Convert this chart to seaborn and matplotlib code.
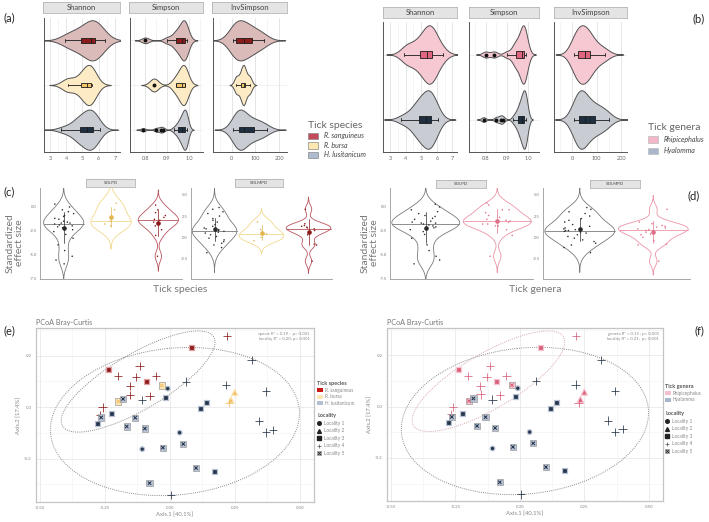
import numpy as np
import pandas as pd
import matplotlib
matplotlib.use("Agg")
import matplotlib.pyplot as plt
import seaborn as sns
from matplotlib.patches import Patch, Ellipse
from matplotlib.lines import Line2D
from matplotlib.ticker import MultipleLocator, FixedLocator, FormatStrFormatter

# ------------------------------------------------------------------ data
species = ["R. sanguineus", "R. bursa", "H. lusitanicum"]
genera = ["Rhipicephalus", "Hyalomma"]
genus_of = {"R. sanguineus": "Rhipicephalus", "R. bursa": "Rhipicephalus",
            "H. lusitanicum": "Hyalomma"}

shannon_rs = [3.9, 4.3, 4.6, 4.9, 5.1, 5.3, 5.5, 5.6, 5.7, 5.8, 5.9, 6.1, 6.4]
shannon_rb = [4.1, 4.9, 5.3, 5.5, 5.6]
shannon_hl = [3.7, 4.0, 4.3, 4.5, 4.6, 4.7, 4.8, 4.85, 4.9, 5.0, 5.1, 5.2, 5.25, 5.3,
              5.35, 5.4, 5.45, 5.5, 5.55, 5.6, 5.65, 5.7, 5.75, 5.8, 5.9, 6.0, 6.1]

simpson_rs = [0.80, 0.90, 0.93, 0.94, 0.95, 0.96, 0.97, 0.97, 0.98, 0.98, 0.98, 0.99, 0.99]
simpson_rb = [0.84, 0.94, 0.97, 0.98, 0.98]
simpson_hl = [0.79, 0.85, 0.87, 0.88, 0.93, 0.94, 0.95, 0.95, 0.96, 0.96, 0.96, 0.97, 0.97,
              0.97, 0.97, 0.98, 0.98, 0.98, 0.98, 0.98, 0.98, 0.99, 0.99, 0.99, 0.99, 0.99, 0.99]

invsimpson_rs = [5, 10, 15, 20, 30, 40, 50, 60, 70, 85, 95, 120, 135]
invsimpson_rb = [20, 40, 50, 55, 75]
invsimpson_hl = [5, 10, 15, 20, 22, 25, 28, 30, 32, 35, 38, 40, 45, 50, 55, 60, 65, 70,
                 80, 90, 95, 100, 110, 120, 130, 140, 150]

ses_pd_rs = [0.2, -0.3, -0.6, -0.9, -1.1, -1.3, -1.4, -1.6, -1.8, -2.0, -2.4, -3.0, -5.2]
ses_pd_rb = [0.4, -0.3, -1.5, -1.8, -2.0]
ses_pd_hl = [0.3, 0.0, -0.3, -0.5, -0.7, -0.9, -1.0, -1.2, -1.3, -1.5, -1.6, -1.7, -1.7,
             -1.8, -1.9, -2.0, -2.1, -2.2, -2.4, -2.6, -2.9, -3.3, -4.0, -4.6, -5.2, -5.6, -6.0]

ses_mpd_rs = [3.3, 1.6, 1.4, 1.3, 1.2, 1.1, 1.0, 0.8, 0.6, 0.3, -0.8, -0.9, -2.8]
ses_mpd_rb = [1.8, 0.9, 0.4, 0.0, -0.4]
ses_mpd_hl = [3.5, 3.3, 3.0, 2.8, 2.5, 2.2, 2.0, 1.8, 1.5, 1.3, 1.1, 1.0, 0.9, 0.8, 0.8,
              0.7, 0.6, 0.5, 0.3, 0.1, -0.1, -0.3, -0.5, -0.7, -0.9, -1.2, -1.8]

pcoa_ax1_rs = [0.082, -0.236, -0.091, 0.219, -0.116, -0.200, -0.129, -0.052, -0.153,
               -0.152, -0.078, -0.259, -0.268]
pcoa_ax2_rs = [0.231, 0.147, 0.098, 0.277, 0.159, 0.120, 0.117, 0.120, 0.081,
               0.048, 0.044, -0.001, -0.030]
pcoa_loc_rs = [3, 3, 3, 4, 4, 4, 4, 4, 4, 4, 4, 4, 4]

pcoa_ax1_rb = [0.250, 0.235, -0.031, -0.198, 0.228]
pcoa_ax2_rb = [0.057, 0.028, 0.084, 0.022, 0.015]
pcoa_loc_rb = [2, 2, 5, 5, 4]

pcoa_ax1_hl = [-0.008, 0.038, -0.106, -0.018, 0.143, 0.119, -0.223, -0.277, 0.173,
               -0.180, -0.264, -0.133, -0.166, -0.096, -0.027, 0.052, 0.101, -0.078,
               -0.106, 0.062, 0.216, 0.315, 0.369, 0.343, 0.369, 0.398, 0.005]
pcoa_ax2_hl = [0.072, -0.099, -0.163, 0.039, 0.018, -0.006, -0.026, -0.062, -0.250,
               0.032, -0.040, -0.041, -0.075, -0.083, -0.157, -0.143, -0.236, -0.295,
               0.028, 0.099, 0.086, 0.183, 0.061, -0.054, -0.098, -0.088, -0.342]
pcoa_loc_hl = [1, 1, 1, 3, 3, 3, 3, 3, 3, 5, 5, 5, 5, 5, 5, 5, 5, 5,
               4, 4, 4, 4, 4, 4, 4, 4, 4]

localities = ["Locality 1", "Locality 2", "Locality 3", "Locality 4", "Locality 5"]
pcoa_stats_species = "specie R\u00b2 = 0.19 ;  p= 0.001\nlocality R\u00b2 = 0.20; p= 0.001"
pcoa_stats_genera = "genera R\u00b2 = 0.15 ; p= 0.001\nlocality R\u00b2 = 0.21;  p= 0.001"

# ------------------------------------------------------------------ tables
def long_table(metric, rs, rb, hl):
    rows = []
    for sp, vals in zip(species, [rs, rb, hl]):
        for v in vals:
            rows.append((sp, genus_of[sp], metric, v))
    return pd.DataFrame(rows, columns=["species", "genus", "metric", "value"])

div_df = pd.concat([long_table("Shannon", shannon_rs, shannon_rb, shannon_hl),
                    long_table("Simpson", simpson_rs, simpson_rb, simpson_hl),
                    long_table("InvSimpson", invsimpson_rs, invsimpson_rb, invsimpson_hl)],
                   ignore_index=True)
ses_df = pd.concat([long_table("SES.PD", ses_pd_rs, ses_pd_rb, ses_pd_hl),
                    long_table("SES.MPD", ses_mpd_rs, ses_mpd_rb, ses_mpd_hl)],
                   ignore_index=True)

pc_rows = []
for sp, a1, a2, lc in [("R. sanguineus", pcoa_ax1_rs, pcoa_ax2_rs, pcoa_loc_rs),
                       ("R. bursa", pcoa_ax1_rb, pcoa_ax2_rb, pcoa_loc_rb),
                       ("H. lusitanicum", pcoa_ax1_hl, pcoa_ax2_hl, pcoa_loc_hl)]:
    for x, y, l in zip(a1, a2, lc):
        pc_rows.append((sp, genus_of[sp], f"Locality {l}", x, y))
pc_df = pd.DataFrame(pc_rows, columns=["species", "genus", "locality", "Axis1", "Axis2"])

# ------------------------------------------------------------------ style
sns.set_style("white")
plt.rcParams["font.family"] = ["Lato", "DejaVu Sans"]
W, H = 709, 522
fig = plt.figure(figsize=(W / 100, H / 100), dpi=100)


def px_axes(x0, y0, x1, y1):
    return fig.add_axes([x0 / W, 1 - y1 / H, (x1 - x0) / W, (y1 - y0) / H])


def strip(x0, y0, x1, y1, text, fs):
    s = px_axes(x0, y0, x1, y1)
    s.set_facecolor("#e4e4e4")
    for sp in s.spines.values():
        sp.set_color("#b5b5b5")
        sp.set_linewidth(0.6)
    s.set_xticks([])
    s.set_yticks([])
    s.text(0.5, 0.5, text, ha="center", va="center", fontsize=fs, color="#444")


def nrd0(kde):
    x = np.asarray(kde.dataset).ravel()
    sd = np.std(x, ddof=1)
    q75, q25 = np.percentile(x, [75, 25])
    lo = min(sd, (q75 - q25) / 1.34) if q75 > q25 else sd
    return 0.9 * lo * len(x) ** -0.2 / sd


# ------------------------------------------------------------------ (a), (b)
def div_panel(ax, sub, col, order, fills, boxes, xlim, major, minor, fmt, adj):
    sns.violinplot(data=sub, x="value", y=col, hue=col, order=order, hue_order=order,
                   palette=fills, orient="h", inner=None, cut=3, bw_method=nrd0,
                   bw_adjust=adj, density_norm="width", width=0.9, linewidth=0.7,
                   linecolor="#505050", saturation=1, legend=False, ax=ax)
    sns.boxplot(data=sub, x="value", y=col, hue=col, order=order, hue_order=order,
                palette=boxes, orient="h", width=0.11, linewidth=0.6, linecolor="#1a1a1a",
                saturation=1, whis=1.5,
                flierprops=dict(marker="o", markersize=1.8, markerfacecolor="#111",
                                markeredgecolor="#111"),
                legend=False, ax=ax)
    ax.set_xlim(*xlim)
    ax.xaxis.set_major_locator(MultipleLocator(major))
    ax.xaxis.set_minor_locator(MultipleLocator(minor))
    ax.xaxis.set_major_formatter(FormatStrFormatter(fmt))
    ax.grid(axis="x", which="major", color="#e2e2e2", lw=0.6)
    ax.grid(axis="x", which="minor", color="#f0f0f0", lw=0.5)
    ax.grid(axis="y", which="major", color="#ececec", lw=0.5)
    ax.set_axisbelow(True)
    ax.set_xlabel("")
    ax.set_ylabel("")
    ax.tick_params(axis="y", length=0, labelleft=False)
    ax.tick_params(axis="x", length=1.5, width=0.5, labelsize=4, colors="#666", pad=1.5)
    for k in ["top", "right"]:
        ax.spines[k].set_visible(False)
    for k in ["left", "bottom"]:
        ax.spines[k].set_color("#555")
        ax.spines[k].set_linewidth(0.7)


fill_sp = {"R. sanguineus": "#dbbaba", "R. bursa": "#fcebc4", "H. lusitanicum": "#c9cdd3"}
box_sp = {"R. sanguineus": "#8b1c1c", "R. bursa": "#f2c46b", "H. lusitanicum": "#1e2f42"}
leg_sp = {"R. sanguineus": "#c24a5a", "R. bursa": "#fde8b2", "H. lusitanicum": "#aebad0"}
fill_ge = {"Rhipicephalus": "#f5c8d2", "Hyalomma": "#c9cdd3"}
box_ge = {"Rhipicephalus": "#e06680", "Hyalomma": "#1e2f42"}
leg_ge = {"Rhipicephalus": "#f2b8c8", "Hyalomma": "#aab6cc"}

metric_cfg = [("Shannon", 1, 0.5, "%g", 1.3), ("Simpson", 0.1, 0.05, "%.1f", 1.0),
              ("InvSimpson", 100, 50, "%g", 1.3)]
a_boxes = [(44, 120, (2.63, 7.31)), (130, 203, (0.730, 1.064)), (213, 287, (-78, 232))]
b_boxes = [(383, 457, (2.55, 7.29)), (469, 539, (0.722, 1.05)), (554, 627, (-75, 224))]

for (metric, mj, mn, fmt, adj), (x0, x1, xl) in zip(metric_cfg, a_boxes):
    ax = px_axes(x0, 18, x1, 152)
    div_panel(ax, div_df[div_df.metric == metric], "species", species, fill_sp, box_sp,
              xl, mj, mn, fmt, adj)
    strip(x0 - 1, 2, x1, 13, metric, 5.5)

for (metric, mj, mn, fmt, adj), (x0, x1, xl) in zip(metric_cfg, b_boxes):
    ax = px_axes(x0, 22, x1, 152)
    div_panel(ax, div_df[div_df.metric == metric], "genus", genera, fill_ge, box_ge,
              xl, mj, mn, fmt, adj)
    strip(x0, 7, x1, 18, metric, 5.5)

fig.legend([Patch(facecolor=leg_sp[s], edgecolor="#888", lw=0.5) for s in species], species,
           title="Tick species", loc="upper left", bbox_to_anchor=(308 / W, 1 - 121 / H),
           frameon=False, prop={"style": "italic", "size": 5}, title_fontsize=7.5,
           handlelength=1.5, handleheight=1.1, labelspacing=0.35, alignment="left",
           borderaxespad=0, borderpad=0, labelcolor="#444")
fig.legends[-1].get_title().set_color("#666")
fig.legend([Patch(facecolor=leg_ge[g], edgecolor="#bbb", lw=0.5) for g in genera], genera,
           title="Tick genera", loc="upper left", bbox_to_anchor=(648 / W, 1 - 123 / H),
           frameon=False, prop={"style": "italic", "size": 5}, title_fontsize=7.5,
           handlelength=1.5, handleheight=1.1, labelspacing=0.6, alignment="left",
           borderaxespad=0, borderpad=0, labelcolor="#444")
fig.legends[-1].get_title().set_color("#666")

# ------------------------------------------------------------------ (c), (d)
np.random.seed(7)


def ses_panel(ax, sub, col, order, lines_pal, pts_pal, ylim, yticks, width):
    n0 = len(ax.lines)
    sns.violinplot(data=sub, x=col, y="value", hue=col, order=order, hue_order=order,
                   palette=lines_pal, fill=False, inner="quart", cut=3, bw_method=nrd0,
                   bw_adjust=1.2, density_norm="area", width=width, linewidth=0.6,
                   saturation=1, legend=False, ax=ax)
    new = list(ax.lines[n0:])
    for i, ln in enumerate(new):
        if i % 3 != 1:
            ln.remove()
        else:
            ln.set_linestyle("-")
            ln.set_linewidth(0.6)
    sns.stripplot(data=sub, x=col, y="value", hue=col, order=order, hue_order=order,
                  palette=pts_pal, size=1.1, jitter=0.22, legend=False, ax=ax, zorder=3)
    sns.pointplot(data=sub, x=col, y="value", hue=col, order=order, hue_order=order,
                  palette=pts_pal, errorbar="sd", markers="o", markersize=1.3,
                  linestyle="none", err_kws={"linewidth": 0.5}, legend=False, ax=ax)
    ax.set_ylim(*ylim)
    ax.set_yticks(yticks)
    ax.set_yticklabels([f"{t:.1f}" for t in yticks])
    ax.set_xlabel("")
    ax.set_ylabel("")
    ax.tick_params(axis="x", length=0, labelbottom=False)
    ax.tick_params(axis="y", length=1.2, width=0.4, labelsize=3, colors="#777", pad=1)
    for k in ["top", "right"]:
        ax.spines[k].set_visible(False)
    for k in ["left", "bottom"]:
        ax.spines[k].set_color("#999")
        ax.spines[k].set_linewidth(0.6)


ses_order_sp = ["H. lusitanicum", "R. bursa", "R. sanguineus"]
ses_line_sp = {"H. lusitanicum": "#7a7a7a", "R. bursa": "#f2d98e", "R. sanguineus": "#b9545e"}
ses_pts_sp = {"H. lusitanicum": "#2a2a2a", "R. bursa": "#e3b650", "R. sanguineus": "#8b1a1a"}
ses_order_ge = ["Hyalomma", "Rhipicephalus"]
ses_line_ge = {"Hyalomma": "#7a7a7a", "Rhipicephalus": "#ec94a6"}
ses_pts_ge = {"Hyalomma": "#2a2a2a", "Rhipicephalus": "#e07088"}

pd_ylim, pd_ticks = (-7.6, 2.0), [-7.5, -5.0, -2.5, 0.0]
mpd_ylim, mpd_ticks = (-4.9, 5.8), [-2.5, 0.0, 2.5, 5.0]

ax = px_axes(40, 188, 182, 279)
ses_panel(ax, ses_df[ses_df.metric == "SES.PD"], "species", ses_order_sp, ses_line_sp,
          ses_pts_sp, pd_ylim, pd_ticks, 0.85)
strip(86, 179, 135, 187, "SES.PD", 3.2)
ax = px_axes(191, 188, 332, 279)
ses_panel(ax, ses_df[ses_df.metric == "SES.MPD"], "species", ses_order_sp, ses_line_sp,
          ses_pts_sp, mpd_ylim, mpd_ticks, 0.95)
strip(235, 179, 283, 187, "SES.MPD", 3.2)

ax = px_axes(390, 188, 533, 279)
ses_panel(ax, ses_df[ses_df.metric == "SES.PD"], "genus", ses_order_ge, ses_line_ge,
          ses_pts_ge, pd_ylim, pd_ticks, 0.95)
strip(436, 180, 486, 188, "SES.PD", 3.2)
ax = px_axes(543, 188, 690, 279)
ses_panel(ax, ses_df[ses_df.metric == "SES.MPD"], "genus", ses_order_ge, ses_line_ge,
          ses_pts_ge, mpd_ylim, mpd_ticks, 0.95)
strip(590, 180, 640, 188, "SES.MPD", 3.2)

for xx, txt in [(15, "Standardized\neffect size"), (370, "Standardized\neffect size")]:
    fig.text(xx / W, 1 - 243 / H, txt, rotation=90, ha="center", va="center",
             fontsize=7.5, color="#777", linespacing=1.0)
fig.text(180 / W, 1 - 290 / H, "Tick species", ha="center", va="center", fontsize=7.5,
         color="#777")
fig.text(535 / W, 1 - 289 / H, "Tick genera", ha="center", va="center", fontsize=7.5,
         color="#777")

# ------------------------------------------------------------------ (e), (f)
def cov_trob(X, nu=5, tol=1e-4, iters=100):
    n, p = X.shape
    w = np.ones(n)
    loc = X.mean(axis=0)
    for _ in range(iters):
        w0 = w
        D = X - loc
        S = (w[:, None] * D).T @ D / w.sum()
        q = np.einsum("ij,jk,ik->i", D, np.linalg.inv(S), D)
        w = (nu + p) / (nu + q)
        loc = (w[:, None] * X).sum(axis=0) / w.sum()
        if np.all(np.abs(w - w0) < tol):
            break
    D = X - loc
    return loc, (w[:, None] * D).T @ D / n


def ellipse(sub, color):
    X = sub[["Axis1", "Axis2"]].to_numpy()
    m = len(X) - 1
    r = np.sqrt(2 * (m / 2) * (0.05 ** (-2 / m) - 1))
    center, cov = cov_trob(X)
    vals, vecs = np.linalg.eigh(cov)
    ang = np.degrees(np.arctan2(vecs[1, 1], vecs[0, 1]))
    return Ellipse(center, 2 * r * np.sqrt(vals[1]), 2 * r * np.sqrt(vals[0]),
                   angle=ang, fill=False, ls=(0, (1, 1.2)), lw=0.7, ec=color, zorder=1)


def pcoa_panel(ax, col, order, dark, light, ell_cols, stats):
    for sp, c in ell_cols.items():
        ax.add_patch(ellipse(pc_df[pc_df.species == sp], c))
    spec = [("Locality 1", "o", 11), ("Locality 2", "^", 20), ("Locality 3", "s", 13)]
    for loc, mk, s in spec:
        sub = pc_df[pc_df.locality == loc]
        sns.scatterplot(data=sub, x="Axis1", y="Axis2", hue=col, hue_order=order,
                        palette=dark, marker=mk, s=s, linewidth=0.9,
                        edgecolor=[light[v] for v in sub[col]], legend=False, ax=ax, zorder=3)
    sub = pc_df[pc_df.locality == "Locality 4"]
    sns.scatterplot(data=sub, x="Axis1", y="Axis2", hue=col, hue_order=order, palette=dark,
                    marker="+", s=36, linewidth=0.55, legend=False, ax=ax, zorder=3)
    sub = pc_df[pc_df.locality == "Locality 5"]
    sns.scatterplot(data=sub, x="Axis1", y="Axis2", hue=col, hue_order=order, palette=light,
                    marker="s", s=20, linewidth=0.4, edgecolor="#888", legend=False, ax=ax,
                    zorder=3)
    sns.scatterplot(data=sub, x="Axis1", y="Axis2", hue=col, hue_order=order, palette=dark,
                    marker="x", s=6, linewidth=0.7, legend=False, ax=ax, zorder=4)
    ax.set_xlim(-0.515, 0.555)
    ax.set_ylim(-0.368, 0.307)
    ax.xaxis.set_major_locator(FixedLocator([-0.5, -0.25, 0, 0.25, 0.5]))
    ax.xaxis.set_minor_locator(MultipleLocator(0.125))
    ax.yaxis.set_major_locator(FixedLocator([-0.2, 0, 0.2]))
    ax.yaxis.set_minor_locator(MultipleLocator(0.1))
    ax.xaxis.set_major_formatter(FormatStrFormatter("%.2f"))
    ax.yaxis.set_major_formatter(FormatStrFormatter("%.1f"))
    ax.grid(which="major", color="#e4e4e4", lw=0.5)
    ax.grid(which="minor", color="#f1f1f1", lw=0.4)
    ax.set_axisbelow(True)
    ax.tick_params(which="major", length=1.5, width=0.4, labelsize=3.2, colors="#888", pad=1.5)
    ax.tick_params(which="minor", length=0)
    for sp in ax.spines.values():
        sp.set_color("#c4c4c4")
        sp.set_linewidth(0.9)
    ax.set_xlabel("Axis.1 [40.1%]", fontsize=4.2, color="#888", labelpad=1.5)
    ax.set_ylabel("Axis.2 [17.4%]", fontsize=4.2, color="#888", labelpad=2)
    ax.set_title("PCoA Bray-Curtis", loc="left", fontsize=5.2, color="#777", pad=2.5)
    ax.text(0.985, 0.975, stats, transform=ax.transAxes, ha="right", va="top",
            fontsize=3.1, color="#888", linespacing=1.2)


dark_sp = {"R. sanguineus": "#8c1c1c", "R. bursa": "#f0c06a", "H. lusitanicum": "#25354a"}
light_sp = {"R. sanguineus": "#e0a0a0", "R. bursa": "#fbe6b8", "H. lusitanicum": "#b8c2d4"}
pleg_sp = {"R. sanguineus": "#c81818", "R. bursa": "#fde6b5", "H. lusitanicum": "#b3bed2"}
dark_ge = {"Rhipicephalus": "#d95f7a", "Hyalomma": "#25354a"}
light_ge = {"Rhipicephalus": "#f5c6d1", "Hyalomma": "#b8c2d4"}
pleg_ge = {"Rhipicephalus": "#f4c0cd", "Hyalomma": "#aab6cc"}

ax = px_axes(36, 328, 314, 502)
pcoa_panel(ax, "species", species, dark_sp, light_sp,
           {"R. sanguineus": "#8a8a8a", "H. lusitanicum": "#8a8a8a"}, pcoa_stats_species)
ax = px_axes(387, 328, 663, 501)
pcoa_panel(ax, "genus", genera, dark_ge, light_ge,
           {"R. sanguineus": "#d8a8b4", "H. lusitanicum": "#8a8a8a"}, pcoa_stats_genera)

loc_handles = [Line2D([], [], ls="none", marker="o", ms=2.6, color="#222"),
               Line2D([], [], ls="none", marker="^", ms=2.8, color="#222"),
               Line2D([], [], ls="none", marker="s", ms=2.5, color="#222"),
               Line2D([], [], ls="none", marker="+", ms=3.5, mew=0.5, color="#555"),
               (Line2D([], [], ls="none", marker="s", ms=3.2, mfc="#bbbbbb", mec="#777",
                       mew=0.4),
                Line2D([], [], ls="none", marker="x", ms=2.0, mew=0.6, color="#222"))]


def pcoa_legends(x, y1, y2, title, cats, cols):
    fig.legend([Patch(facecolor=cols[c], edgecolor="none") for c in cats], cats,
               title=title, loc="upper left", bbox_to_anchor=(x / W, 1 - y1 / H),
               frameon=False, fontsize=3.4, title_fontproperties={"weight": "bold", "size": 4},
               handlelength=1.2, handleheight=1.0, labelspacing=0.35, alignment="left",
               borderaxespad=0, borderpad=0, handletextpad=0.5, labelcolor="#888")
    fig.legends[-1].get_title().set_color("#555")
    fig.legend(loc_handles, localities, title="Locality", loc="upper left",
               bbox_to_anchor=(x / W, 1 - y2 / H), frameon=False, fontsize=3.4,
               title_fontproperties={"weight": "bold", "size": 4}, handlelength=1.0,
               labelspacing=0.55, alignment="left", borderaxespad=0, borderpad=0,
               handletextpad=0.5, labelcolor="#888")
    fig.legends[-1].get_title().set_color("#555")


pcoa_legends(317, 381, 413, "Tick species", species, pleg_sp)
pcoa_legends(665, 384, 411, "Tick genera", genera, pleg_ge)

# ------------------------------------------------------------------ panel letters
for txt, x, y in [("(a)", 9, 18), ("(b)", 699, 19), ("(c)", 9, 192), ("(d)", 694, 196),
                  ("(e)", 9, 331), ("(f)", 699, 331)]:
    fig.text(x / W, 1 - y / H, txt, ha="center", va="center", fontsize=8, color="#222")

fig.savefig("out.png", dpi=100)
